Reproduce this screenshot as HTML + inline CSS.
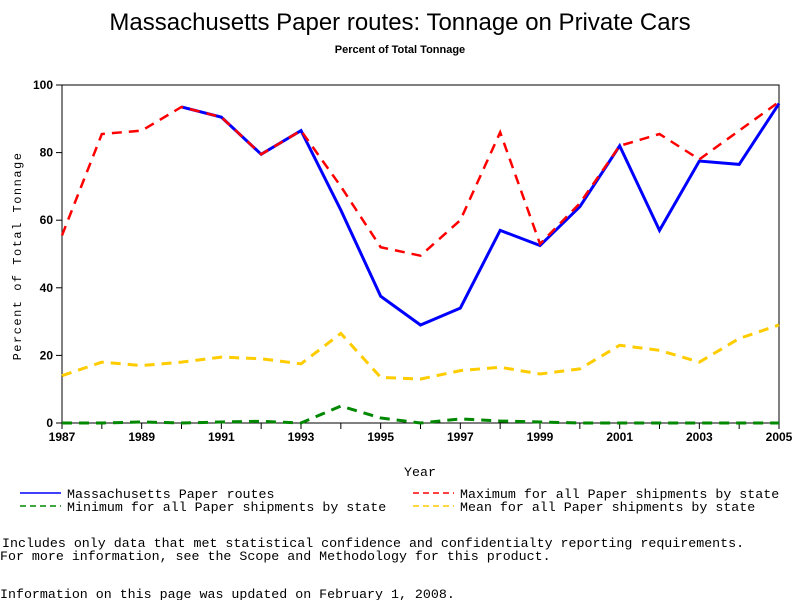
<!DOCTYPE html>
<html><head><meta charset="utf-8"><style>
body{margin:0;background:#fff;}
svg text{font-family:"Liberation Sans",sans-serif;}
.m{font-family:"Liberation Mono",monospace;font-size:13.3px;}
</style></head><body>
<svg id="chart" width="800" height="600" xmlns="http://www.w3.org/2000/svg">
<text x="400" y="30" text-anchor="middle" font-size="24">Massachusetts Paper routes: Tonnage on Private Cars</text>
<text x="400" y="53" text-anchor="middle" font-size="11" font-weight="bold">Percent of Total Tonnage</text>
<text transform="translate(21,256) rotate(-90)" text-anchor="middle" class="m" style="font-size:12px" letter-spacing="1.5">Percent of Total Tonnage</text>
<text x="420" y="476" text-anchor="middle" class="m">Year</text>
<g id="axes"></g><g id="series"></g>
<g>
<line x1="20" y1="493" x2="61" y2="493" stroke="#00f" stroke-width="1.5"/>
<text x="67" y="498" class="m">Massachusetts Paper routes</text>
<line x1="20" y1="506" x2="61" y2="506" stroke="#080" stroke-width="1.5" stroke-dasharray="6,4"/>
<text x="67" y="511" class="m">Minimum for all Paper shipments by state</text>
<line x1="413" y1="493" x2="454" y2="493" stroke="#f00" stroke-width="1.5" stroke-dasharray="6,4"/>
<text x="460" y="498" class="m">Maximum for all Paper shipments by state</text>
<line x1="413" y1="506" x2="454" y2="506" stroke="#fc0" stroke-width="1.5" stroke-dasharray="6,4"/>
<text x="460" y="511" class="m">Mean for all Paper shipments by state</text>
</g>
<text x="2" y="547" class="m">Includes only data that met statistical confidence and confidentialty reporting requirements.</text>
<text x="0" y="560" class="m">For more information, see the Scope and Methodology for this product.</text>
<text x="0" y="598" class="m">Information on this page was updated on February 1, 2008.</text>
</svg>
<script>
const years=[1987,1988,1989,1990,1991,1992,1993,1994,1995,1996,1997,1998,1999,2000,2001,2002,2003,2004,2005];
const massVals=[null,null,null,93.5,90.5,79.5,86.5,63,37.5,29,34,57,52.5,64,82,57,77.5,76.5,94.5];
const maxVals=[55.5,85.5,86.5,93.5,90.5,79.5,86.5,70,52,49.5,60,86,53,65,82,85.5,78,86.5,95];
const meanVals=[14,18,17,18,19.5,19,17.5,26.5,13.5,13,15.5,16.5,14.5,16,23,21.5,18,25,29];
const minVals=[0,0,0.3,0,0.3,0.5,0,5,1.5,0,1.2,0.6,0.3,0,0,0,0,0,0];
const yTicks=[0,20,40,60,80,100];
const xTickLabels=[1987,1989,1991,1993,1995,1997,1999,2001,2003,2005];
const NS="http://www.w3.org/2000/svg";
const X0=62,X1=779,Y0=423,Y1=85;
const xs=y=>X0+(y-1987)/(2005-1987)*(X1-X0);
const ys=v=>Y0-v/100*(Y0-Y1);
const axes=document.getElementById('axes'),ser=document.getElementById('series');
function mk(tag,at,p){const e=document.createElementNS(NS,tag);for(const k in at)e.setAttribute(k,at[k]);p.appendChild(e);return e;}
const frame=mk('rect',{x:X0,y:Y1,width:X1-X0,height:Y0-Y1,fill:'none',stroke:'#000','stroke-width':1},axes);


yTicks.forEach(v=>{
 mk('line',{x1:X0-6,x2:X0,y1:ys(v),y2:ys(v),stroke:'#000'},axes);
 const t=mk('text',{x:X0-9,y:ys(v)+4,'text-anchor':'end','font-size':12,'font-weight':'bold'},axes);t.textContent=v;
 
 
});
years.forEach(y=>{mk('line',{x1:xs(y),x2:xs(y),y1:Y0,y2:Y0+6,stroke:'#000'},axes);});
xTickLabels.forEach(y=>{
 const t=mk('text',{x:xs(y),y:Y0+18,'text-anchor':'middle','font-size':12,'font-weight':'bold'},axes);t.textContent=y;
 
 
});
function line(vals,color,dash,name,w){
 let d='';let pen=false;
 vals.forEach((v,i)=>{if(v==null){pen=false;return;}d+=(pen?'L':'M')+xs(years[i])+','+ys(v);pen=true;});
 const p=mk('path',{d:d,fill:'none',stroke:color,'stroke-width':w,'stroke-dasharray':dash||'none'},ser);
 
 
}
line(minVals,'#080','10,7','minimum-line',3);
line(meanVals,'#fc0','10,7','mean-line',3);
line(massVals,'#00f','','massachusetts-line',3);
line(maxVals,'#f00','10,7','maximum-line',2.5);
</script>
</body></html>
